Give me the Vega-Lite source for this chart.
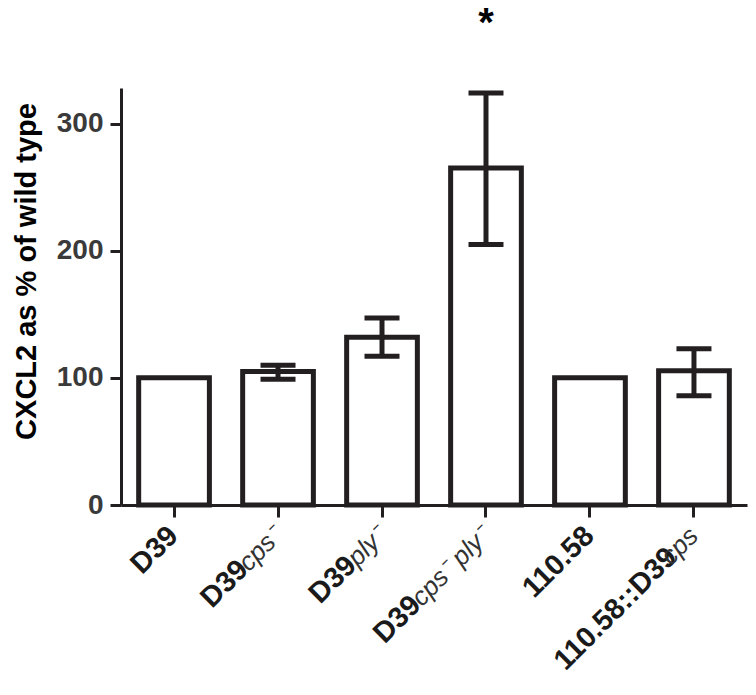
{
  "$schema": "https://vega.github.io/schema/vega-lite/v6.json",
  "autosize": "none",
  "width": 626,
  "height": 417,
  "padding": {"left": 121, "top": 88, "right": 9, "bottom": 190},
  "background": "white",
  "config": {
    "view": {"stroke": null},
    "font": "Liberation Sans"
  },
  "data": {"values": [
    {"group": "D39", "prefix": "D39", "suffix": "", "kind": "none", "value": 100, "lo": null, "hi": null, "sig": ""},
    {"group": "D39cps-", "prefix": "D39", "suffix": "cps⁻", "kind": "cps", "value": 105, "lo": 99, "hi": 110, "sig": ""},
    {"group": "D39ply-", "prefix": "D39", "suffix": "ply⁻", "kind": "ply", "value": 132, "lo": 117, "hi": 147, "sig": ""},
    {"group": "D39cps-ply-", "prefix": "D39", "suffix": "cps⁻ ply⁻", "kind": "long", "value": 265, "lo": 205, "hi": 324, "sig": "*"},
    {"group": "110.58", "prefix": "110.58", "suffix": "", "kind": "none", "value": 100, "lo": null, "hi": null, "sig": ""},
    {"group": "110.58::D39cps", "prefix": "110.58::D39", "suffix": "cps", "kind": "overlap", "value": 105.5, "lo": 86, "hi": 123, "sig": ""}
  ]},
  "encoding": {
    "x": {"field": "group", "type": "nominal", "sort": null, "title": null,
          "scale": {"paddingInner": 0.32, "paddingOuter": 0.17},
          "axis": {"domainColor": "#231f20", "domainWidth": 3, "tickColor": "#231f20", "tickWidth": 3, "tickSize": 12, "labels": false, "grid": false, "title": null}}
  },
  "layer": [
    {
      "mark": {"type": "bar", "fill": "white", "stroke": "#231f20", "strokeWidth": 5},
      "encoding": {"y": {"field": "value", "type": "quantitative", "title": "CXCL2 as % of wild type",
        "scale": {"domain": [0, 328], "nice": false},
        "axis": {"values": [0, 100, 200, 300], "domainColor": "#231f20", "domainWidth": 3, "tickColor": "#231f20", "tickWidth": 3, "tickSize": 11, "grid": false,
                 "labelFont": "Liberation Sans", "labelFontWeight": "bold", "labelFontSize": 28, "labelColor": "#3a3a3a", "labelPadding": 7,
                 "titleFont": "Liberation Sans", "titleFontWeight": "bold", "titleFontSize": 29, "titleColor": "#000000", "titlePadding": 15, "titleY": 183}}}
    },
    {
      "transform": [{"filter": "datum.lo != null"}],
      "mark": {"type": "rule", "stroke": "#231f20", "strokeWidth": 5},
      "encoding": {"y": {"field": "lo", "type": "quantitative", "title": "CXCL2 as % of wild type"}, "y2": {"field": "hi"}}
    },
    {
      "transform": [{"filter": "datum.lo != null"}],
      "mark": {"type": "tick", "color": "#231f20", "size": 35, "thickness": 5, "opacity": 1},
      "encoding": {"y": {"field": "lo", "type": "quantitative", "title": "CXCL2 as % of wild type"}}
    },
    {
      "transform": [{"filter": "datum.lo != null"}],
      "mark": {"type": "tick", "color": "#231f20", "size": 35, "thickness": 5, "opacity": 1},
      "encoding": {"y": {"field": "hi", "type": "quantitative", "title": "CXCL2 as % of wild type"}}
    },
    {
      "transform": [{"filter": "datum.sig != ''"}],
      "mark": {"type": "text", "fontSize": 40, "fontWeight": "bold", "color": "#000000", "baseline": "middle", "dy": -69},
      "encoding": {"y": {"field": "hi", "type": "quantitative", "title": "CXCL2 as % of wild type"}, "text": {"field": "sig"}}
    },
    {
      "transform": [{"filter": "datum.kind == 'none'"}],
      "mark": {"type": "text", "angle": -45, "align": "right", "baseline": "alphabetic", "fontSize": 29, "fontWeight": "bold", "color": "#1a1a1a", "dx": -19, "dy": 27},
      "encoding": {"y": {"datum": 0, "type": "quantitative", "title": "CXCL2 as % of wild type"}, "text": {"field": "prefix"}}
    },
    {
      "transform": [{"filter": "datum.kind == 'cps'"}],
      "mark": {"type": "text", "angle": -45, "align": "right", "baseline": "alphabetic", "fontSize": 29, "fontWeight": "bold", "color": "#1a1a1a", "dx": -67, "dy": 27},
      "encoding": {"y": {"datum": 0, "type": "quantitative", "title": "CXCL2 as % of wild type"}, "text": {"field": "prefix"}}
    },
    {
      "transform": [{"filter": "datum.kind == 'ply'"}],
      "mark": {"type": "text", "angle": -45, "align": "right", "baseline": "alphabetic", "fontSize": 29, "fontWeight": "bold", "color": "#1a1a1a", "dx": -61, "dy": 27},
      "encoding": {"y": {"datum": 0, "type": "quantitative", "title": "CXCL2 as % of wild type"}, "text": {"field": "prefix"}}
    },
    {
      "transform": [{"filter": "datum.kind == 'long'"}],
      "mark": {"type": "text", "angle": -45, "align": "right", "baseline": "alphabetic", "fontSize": 29, "fontWeight": "bold", "color": "#1a1a1a", "dx": -117, "dy": 27},
      "encoding": {"y": {"datum": 0, "type": "quantitative", "title": "CXCL2 as % of wild type"}, "text": {"field": "prefix"}}
    },
    {
      "transform": [{"filter": "datum.kind == 'overlap'"}],
      "mark": {"type": "text", "angle": -45, "align": "right", "baseline": "alphabetic", "fontSize": 29, "fontWeight": "bold", "color": "#1a1a1a", "dx": -49, "dy": 27},
      "encoding": {"y": {"datum": 0, "type": "quantitative", "title": "CXCL2 as % of wild type"}, "text": {"field": "prefix"}}
    },
    {
      "transform": [{"filter": "datum.suffix != ''"}],
      "mark": {"type": "text", "angle": -45, "align": "right", "baseline": "alphabetic", "fontSize": 26, "fontStyle": "italic", "fontWeight": "normal", "color": "#333333", "dx": -19, "dy": 27},
      "encoding": {"y": {"datum": 0, "type": "quantitative", "title": "CXCL2 as % of wild type"}, "text": {"field": "suffix"}}
    }
  ]
}
